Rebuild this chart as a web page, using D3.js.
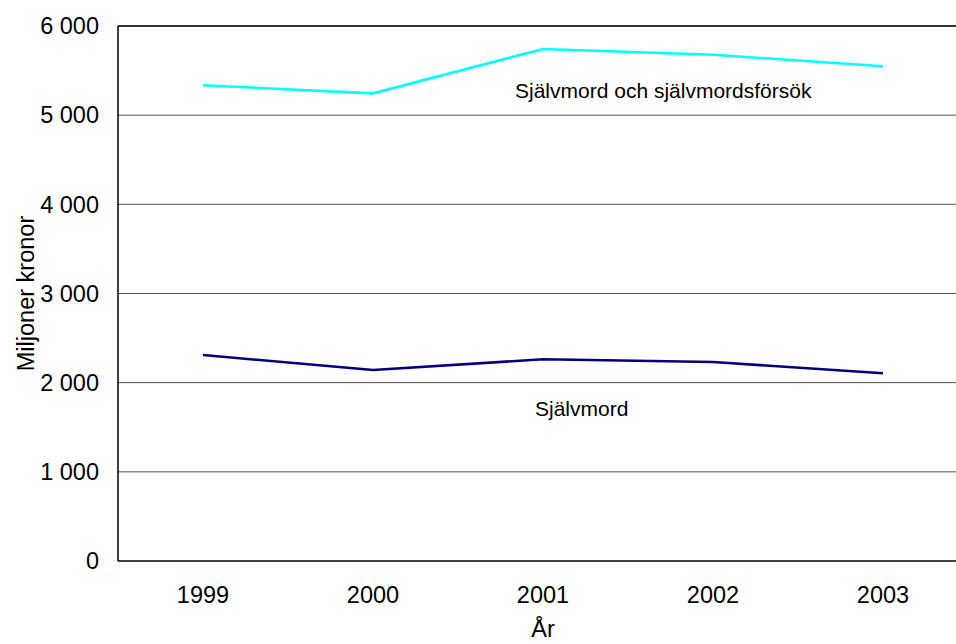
<!DOCTYPE html>
<html>
<head>
<meta charset="utf-8">
<script src="https://cdn.jsdelivr.net/npm/d3@7"></script>
<style>
  html, body { margin: 0; padding: 0; background: #fff; }
  svg { display: block; font-family: "Liberation Sans", Arial, sans-serif; }
</style>
</head>
<body>
<svg id="chart" width="956" height="644"></svg>
<script>
// Kostnader för självmord och självmordsförsök, miljoner kronor
const years = ["1999", "2000", "2001", "2002", "2003"];
const attemptsAndSuicides = [5335, 5245, 5742, 5678, 5548];
const suicides = [2310, 2142, 2262, 2232, 2105];
const yTicks = [0, 1000, 2000, 3000, 4000, 5000, 6000];

const svg = d3.select("#chart");
const W = 956, H = 644;
const plot = { left: 118, right: 968, top: 26, bottom: 561 };

const x = d3.scaleBand().domain(years).range([plot.left, plot.right]);
const y = d3.scaleLinear().domain([0, 6000]).range([plot.bottom, plot.top]);
const cx = d => x(d) + x.bandwidth() / 2;

const fmt = v => d3.format(",")(v).replace(/,/g, " ");

svg.append("clipPath").attr("id", "clip")
  .append("rect").attr("x", 0).attr("y", 0).attr("width", W).attr("height", H);

const g = svg.append("g").attr("clip-path", "url(#clip)");

// horisontella stödlinjer
g.selectAll("line.grid").data(yTicks.filter(t => t > 0)).join("line")
  .attr("class", "grid")
  .attr("x1", plot.left).attr("x2", plot.right)
  .attr("y1", d => y(d)).attr("y2", d => y(d))
  .attr("stroke", d => d === 6000 ? "#333" : "#555")
  .attr("stroke-width", d => d === 6000 ? 2 : 1);

// axlar
g.append("line")
  .attr("x1", plot.left).attr("x2", plot.right)
  .attr("y1", y(0)).attr("y2", y(0))
  .attr("stroke", "#000").attr("stroke-width", 1.5);
g.append("line")
  .attr("x1", plot.left).attr("x2", plot.left)
  .attr("y1", y(6000)).attr("y2", y(0))
  .attr("stroke", "#000").attr("stroke-width", 1.5);

// y-axelns etiketter
svg.selectAll("text.ytick").data(yTicks).join("text")
  .attr("class", "ytick")
  .attr("x", plot.left - 19)
  .attr("y", d => y(d))
  .attr("dy", "0.35em")
  .attr("text-anchor", "end")
  .attr("font-size", 23.5)
  .attr("fill", "#000")
  .text(fmt);

// x-axelns etiketter
svg.selectAll("text.xtick").data(years).join("text")
  .attr("class", "xtick")
  .attr("x", d => cx(d))
  .attr("y", 603)
  .attr("text-anchor", "middle")
  .attr("font-size", 23.5)
  .attr("fill", "#000")
  .text(d => d);

// axeltitlar
svg.append("text")
  .attr("transform", `translate(34, ${(plot.top + plot.bottom) / 2}) rotate(-90)`)
  .attr("text-anchor", "middle")
  .attr("font-size", 23.5)
  .text("Miljoner kronor");

svg.append("text")
  .attr("x", (plot.left + plot.right) / 2)
  .attr("y", 637)
  .attr("text-anchor", "middle")
  .attr("font-size", 23.5)
  .text("År");

// linjer
const line = d3.line().x((d, i) => cx(years[i])).y(d => y(d));

g.append("path").datum(attemptsAndSuicides)
  .attr("d", line)
  .attr("fill", "none")
  .attr("stroke", "#00FFFF")
  .attr("stroke-width", 2.6);

g.append("path").datum(suicides)
  .attr("d", line)
  .attr("fill", "none")
  .attr("stroke", "#000080")
  .attr("stroke-width", 2.6);

// serieetiketter
svg.append("text")
  .attr("x", cx("2001") - 28)
  .attr("y", 98)
  .attr("font-size", 21)
  .text("Självmord och självmordsförsök");

svg.append("text")
  .attr("x", cx("2001") - 8)
  .attr("y", 416)
  .attr("font-size", 21)
  .text("Självmord");
</script>
</body>
</html>
